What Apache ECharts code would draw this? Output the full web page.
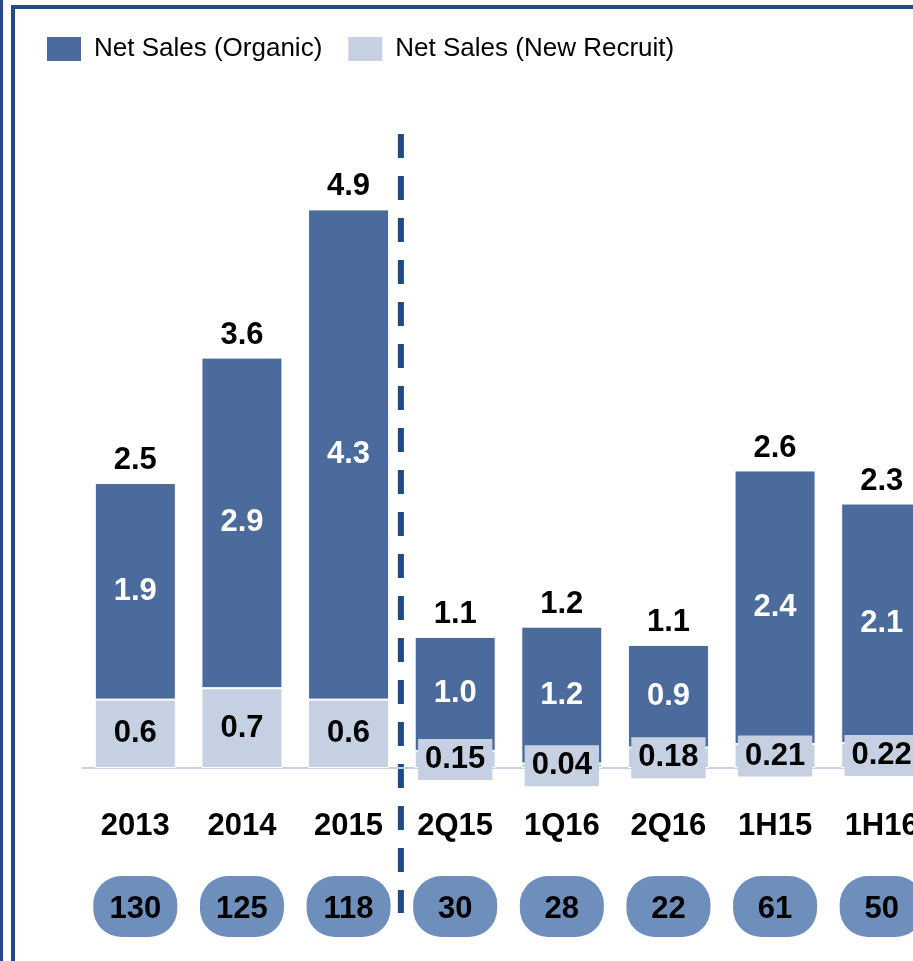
<!DOCTYPE html>
<html>
<head>
<meta charset="utf-8">
<script src="https://cdn.jsdelivr.net/npm/echarts@6/dist/echarts.min.js"></script>
<style>
  html, body { margin: 0; padding: 0; background: #fff; }
  #chart { width: 913px; height: 961px; }
</style>
</head>
<body>
<div id="chart"></div>
<script>
const categories = ['2013', '2014', '2015', '2Q15', '1Q16', '2Q16', '1H15', '1H16'];
const organic = [1.9, 2.9, 4.3, 1.0, 1.2, 0.9, 2.4, 2.1];
const newRecruit = [0.6, 0.7, 0.6, 0.15, 0.04, 0.18, 0.21, 0.22];
const totals = [2.5, 3.6, 4.9, 1.1, 1.2, 1.1, 2.6, 2.3];
const pillValues = [130, 125, 118, 30, 28, 22, 61, 50];

const darkBlue = '#4a6b9b';
const lightBlue = '#c5d0e2';
const pillBlue = '#6e8ebb';
const frameBlue = '#244c82';
const font = 'Liberation Sans, Arial, sans-serif';
const labelSize = 31;

const chart = echarts.init(document.getElementById('chart'));

// 标签位置：堆叠顶部
const stackTop = organic.map((v, i) => v + newRecruit[i]);

const option = {
    animation: false,
    textStyle: { fontFamily: font },
    legend: {
        left: 45,
        top: 35,
        padding: 0,
        itemWidth: 36,
        itemHeight: 26,
        itemGap: 24,
        icon: 'rect',
        textStyle: { fontSize: 26, color: '#000', fontFamily: font, padding: [0, 0, 0, 7] },
        data: ['Net Sales (Organic)', 'Net Sales (New Recruit)']
    },
    grid: { left: 82, width: 853, top: 198, bottom: 193, outerBoundsMode: 'none', containLabel: false },
    xAxis: [{
        type: 'category',
        data: categories,
        axisLine: { lineStyle: { color: lightBlue, width: 2 } },
        axisTick: { show: false },
        axisLabel: {
            margin: 43,
            fontSize: labelSize,
            fontWeight: 'bold',
            color: '#000',
            fontFamily: font
        }
    }, {
        type: 'category',
        position: 'bottom',
        data: categories,
        axisLine: { show: false },
        axisTick: { show: false },
        axisLabel: {
            margin: 108,
            formatter: (v, i) => `{p|${pillValues[i]}}`,
            rich: {
                p: {
                    width: 84,
                    height: 55,
                    align: 'center',
                    verticalAlign: 'middle',
                    backgroundColor: pillBlue,
                    borderRadius: 28,
                    fontSize: labelSize,
                    fontWeight: 'bold',
                    color: '#000',
                    fontFamily: font,
                    padding: [6, 0, 0, 0]
                }
            }
        }
    }],
    yAxis: {
        type: 'value',
        min: 0,
        max: 5,
        show: false,
        splitLine: { show: false }
    },
    series: [
        {
            name: 'Net Sales (New Recruit)',
            type: 'bar',
            stack: 'sales',
            barWidth: 81,
            data: newRecruit,
            itemStyle: { color: lightBlue, borderColor: '#fff', borderWidth: 1 },
            label: {
                show: true,
                position: 'inside',
                fontSize: labelSize,
                fontWeight: 'bold',
                color: '#000',
                fontFamily: font,
                backgroundColor: lightBlue,
                padding: [6, 7, 4, 7],
                formatter: p => String(p.value)
            },
            z: 3
        },
        {
            name: 'Net Sales (Organic)',
            type: 'bar',
            stack: 'sales',
            barWidth: 81,
            data: organic,
            itemStyle: { color: darkBlue, borderColor: '#fff', borderWidth: 1 },
            label: {
                show: true,
                position: 'inside',
                fontSize: labelSize,
                fontWeight: 'bold',
                color: '#fff',
                fontFamily: font,
                formatter: p => p.value.toFixed(1)
            },
            z: 2
        },
        {
            name: 'total',
            type: 'scatter',
            symbolSize: 0,
            data: stackTop,
            itemStyle: { opacity: 1 },
            label: {
                show: true,
                position: 'top',
                distance: 7,
                fontSize: labelSize,
                fontWeight: 'bold',
                color: '#000',
                fontFamily: font,
                formatter: p => totals[p.dataIndex].toFixed(1)
            },
            z: 4
        }
    ]
};

chart.setOption(option);

// 分隔虚线：位于 2015 与 2Q15 之间
const xA = chart.convertToPixel({ xAxisIndex: 0 }, '2015');
const xB = chart.convertToPixel({ xAxisIndex: 0 }, '2Q15');
const xMid = (xA + xB) / 2 - 1;

chart.setOption({
    graphic: [
        {
            type: 'line',
            shape: { x1: 1.5, y1: 0, x2: 1.5, y2: 961 },
            style: { stroke: frameBlue, lineWidth: 3 }
        },
        {
            type: 'rect',
            shape: { x: 13, y: 7, width: 940, height: 990 },
            style: { fill: null, stroke: frameBlue, lineWidth: 4 }
        },
        {
            type: 'line',
            shape: { x1: xMid, y1: 134, x2: xMid, y2: 913 },
            style: { stroke: '#1f4a84', lineWidth: 6, lineDash: [24, 18] }
        }
    ]
});
</script>
</body>
</html>
